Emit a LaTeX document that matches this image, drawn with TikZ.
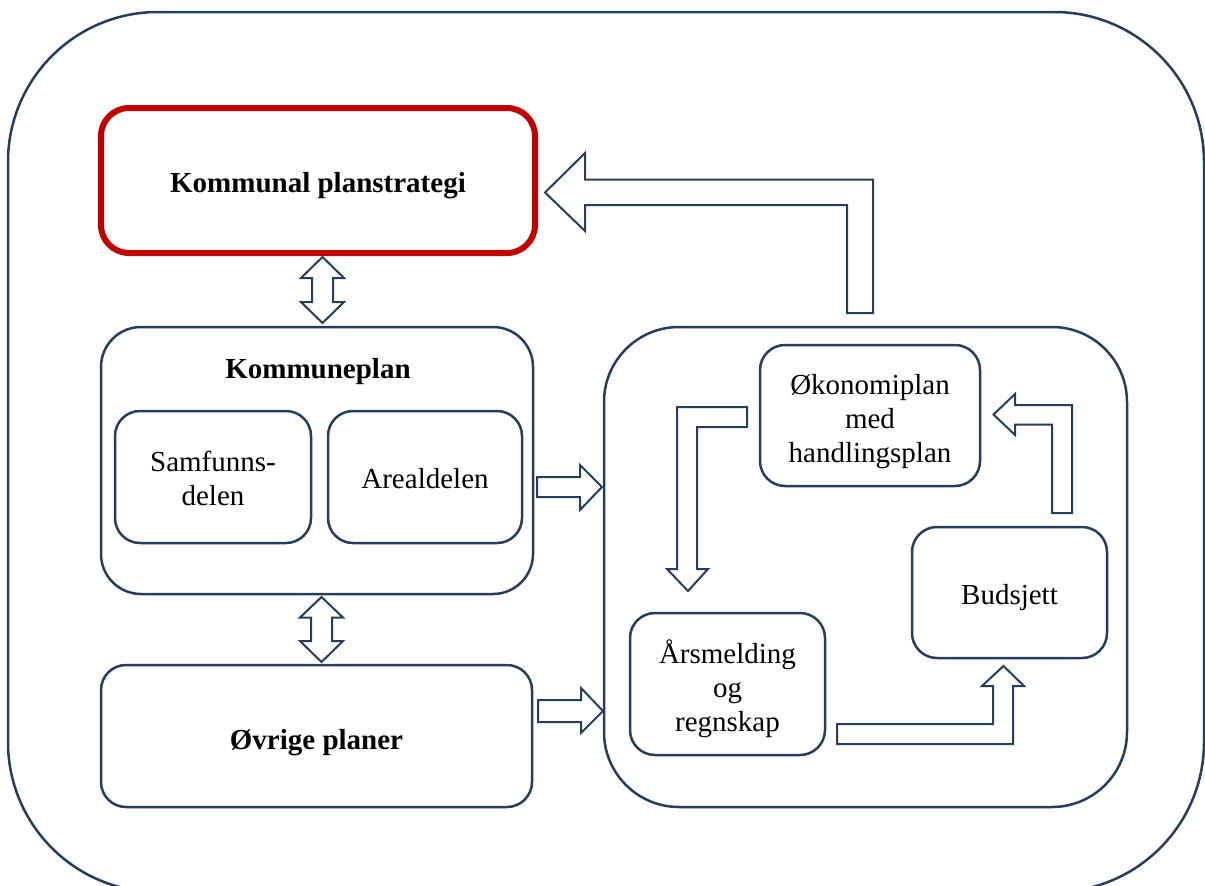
\documentclass[tikz,border=0pt]{standalone}
\usepackage{fontspec}
\setmainfont{Liberation Serif}
\definecolor{ink}{HTML}{243E5C}
\definecolor{redb}{HTML}{C00000}
\begin{document}
\begin{tikzpicture}[x=1pt,y=-1pt,
  font=\fontsize{29}{34}\selectfont,
  box/.style={draw=ink, line width=2.5pt, rounded corners=25pt, inner sep=0pt},
  barrow/.style={draw=ink, line width=2pt, fill=white, line join=miter},
  lbl/.style={inner sep=0pt, align=center},
  blbl/.style={lbl, font=\fontsize{29}{34}\selectfont\bfseries}]
\useasboundingbox (0,0) rectangle (1205,886);
\begin{scope}
\clip (0,0) rectangle (1205,886);
\draw[ink, line width=2.5pt, rounded corners=150pt] (8,12) rectangle (1204,892);
\end{scope}

% left column
\node[box, draw=redb, line width=6pt, rounded corners=28pt, minimum width=434pt, minimum height=145pt] (kps) at (318,180.5) {};
\node[blbl] (kpst) at (318,185.5) {Kommunal planstrategi};
\node[box, rounded corners=40pt, minimum width=432pt, minimum height=267pt] (kp) at (317,460.5) {};
\node[blbl] (kpt) at (318,372) {Kommuneplan};
\node[box, minimum width=196pt, minimum height=132pt] (samf) at (213,477) {};
\node[lbl] (samft) at (213,478) {Samfunns-\\delen};
\node[box, minimum width=194pt, minimum height=132pt] (areal) at (425,477) {};
\node[lbl] (arealt) at (425,479) {Arealdelen};
\node[box, minimum width=431pt, minimum height=142pt] (ovr) at (316.5,736) {};
\node[blbl] (ovrt) at (316.5,743) {Øvrige planer};

% right part
\node[box, rounded corners=75pt, minimum width=523pt, minimum height=480pt] (rb) at (865.5,567) {};
\node[box, minimum width=220pt, minimum height=141pt] (oko) at (870,415.5) {};
\node[lbl] (okot) at (870,421.5) {Økonomiplan\\med\\handlingsplan};
\node[box, minimum width=195pt, minimum height=131pt] (bud) at (1009.5,592.5) {};
\node[lbl] (budt) at (1009.5,597.5) {Budsjett};
\node[box, minimum width=195pt, minimum height=142pt] (ars) at (727.5,684) {};
\node[lbl] (arst) at (727.5,688.5) {Årsmelding\\og\\regnskap};

% double arrows
\draw[barrow] (322.5,257) -- (344,278) -- (333,278) -- (333,302) -- (344,302) -- (322.5,323)
  -- (301,302) -- (312,302) -- (312,278) -- (301,278) -- cycle;
\draw[barrow] (321.5,597) -- (343,617.5) -- (332,617.5) -- (332,641) -- (343,641) -- (321.5,662)
  -- (300,641) -- (311,641) -- (311,617.5) -- (300,617.5) -- cycle;

% right arrows
\draw[barrow] (537,477) -- (580,477) -- (580,465) -- (602,487) -- (580,510) -- (580,497) -- (537,497) -- cycle;
\draw[barrow] (538,700) -- (581,700) -- (581,688) -- (603,711) -- (581,733) -- (581,722) -- (538,722) -- cycle;

% big arrow back to Kommunal planstrategi
\draw[barrow] (847,313) -- (847,205) -- (585,205) -- (585,231) -- (545,192.5) -- (585,153) -- (585,179.5)
  -- (873,179.5) -- (873,313) -- cycle;

% cycle arrows
\draw[barrow] (747,407) -- (677,407) -- (677,569) -- (667,569) -- (688,591) -- (708,569) -- (697,569)
  -- (697,427) -- (747,427) -- cycle;
\draw[barrow] (837,724) -- (993,724) -- (993,686) -- (982,686) -- (1003.5,666) -- (1024,686) -- (1013,686)
  -- (1013,744) -- (837,744) -- cycle;
\draw[barrow] (1052,513) -- (1052,424.5) -- (1015,424.5) -- (1015,435) -- (993.5,414.5) -- (1015,394)
  -- (1015,405) -- (1072,405) -- (1072,513) -- cycle;
\end{tikzpicture}
\end{document}
